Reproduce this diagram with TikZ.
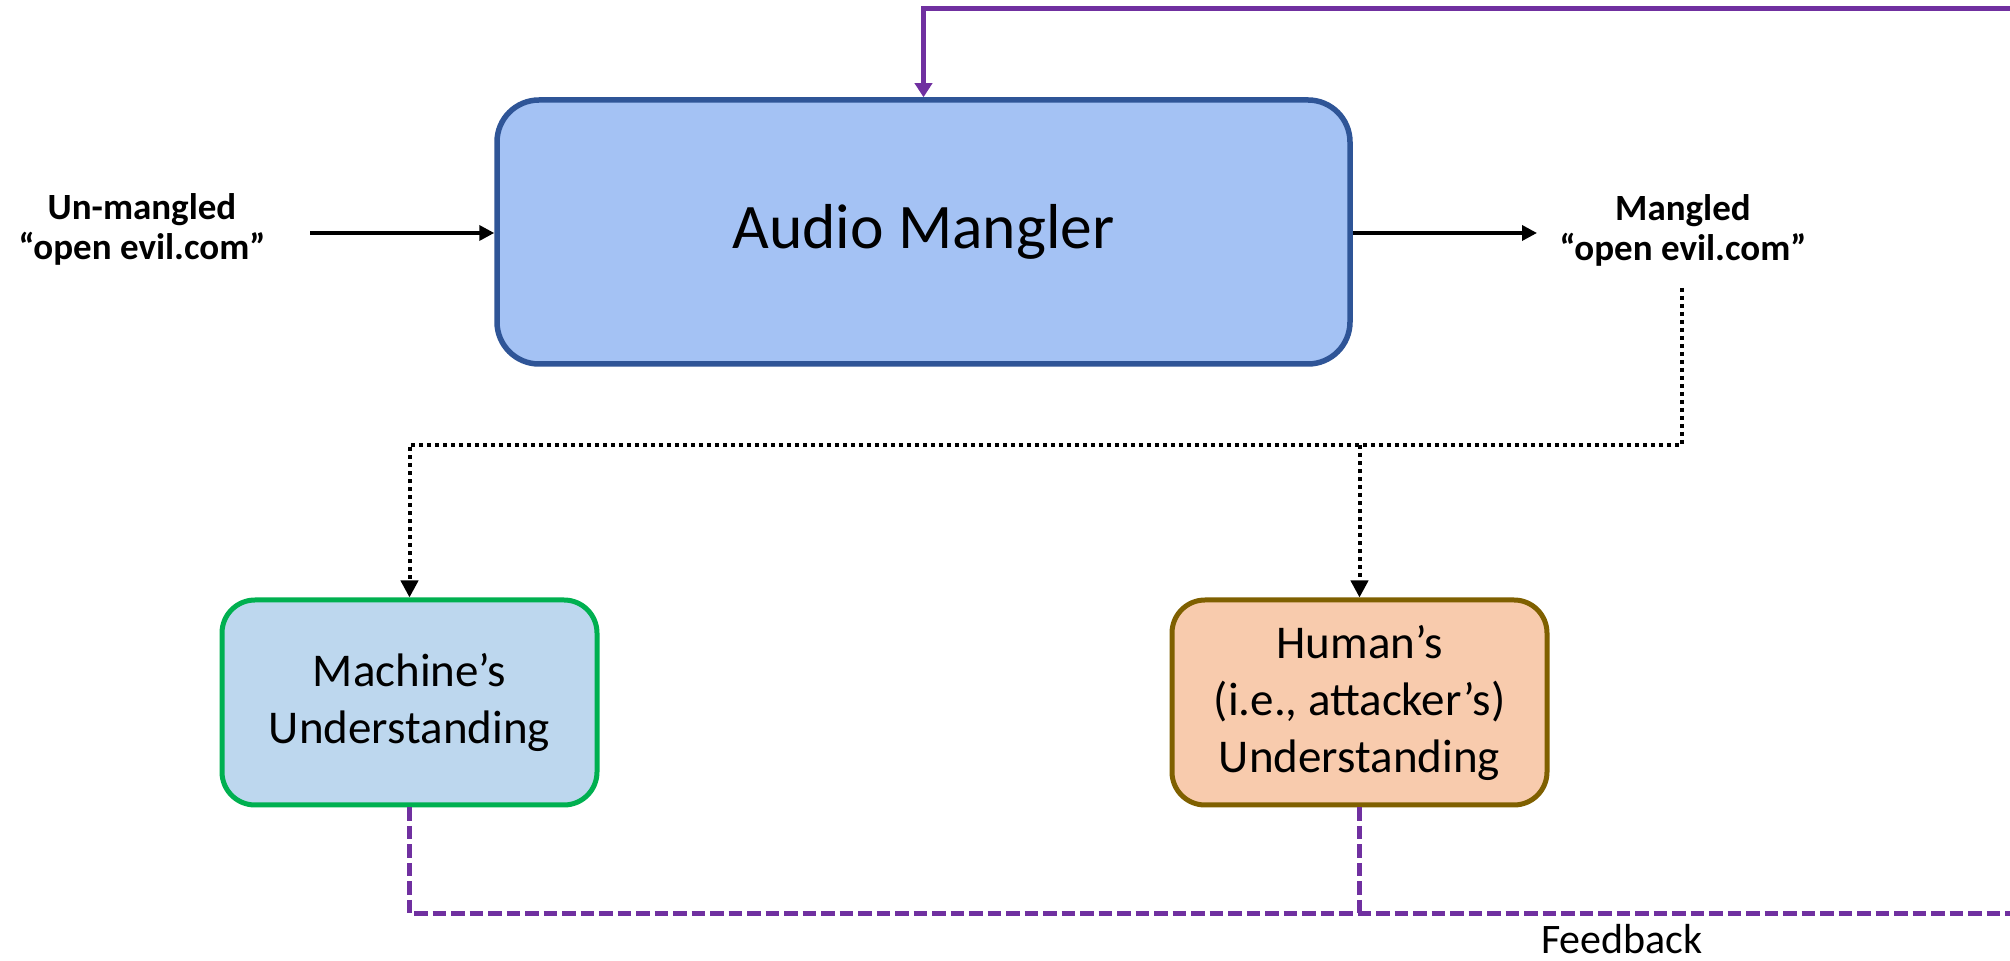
\documentclass[tikz,border=0pt]{standalone}
\usepackage{fontspec}
\setmainfont{Carlito}
\usetikzlibrary{arrows.meta}

\definecolor{mangfill}{HTML}{A4C2F4}
\definecolor{mangline}{HTML}{2F5597}
\definecolor{machfill}{HTML}{BDD7EE}
\definecolor{machline}{HTML}{00B050}
\definecolor{humfill}{HTML}{F8CBAD}
\definecolor{humline}{HTML}{7F6000}
\definecolor{fbpurple}{HTML}{7030A0}

\begin{document}
\begin{tikzpicture}[x=0.5pt,y=-0.5pt,
  bigbox/.style={draw=mangline, fill=mangfill, line width=2.75pt,
    rounded corners=21pt, minimum width=426.5pt, minimum height=132pt,
    inner sep=0pt, align=center, font=\fontsize{31.75pt}{38pt}\selectfont},
  smallbox/.style={line width=2.5pt, rounded corners=16.5pt,
    minimum width=187.5pt, minimum height=102.5pt, inner sep=0pt,
    align=center, font=\fontsize{23.5pt}{28.5pt}\selectfont},
  lbl/.style={inner sep=0pt, align=center,
    font=\bfseries\fontsize{18.5pt}{20pt}\selectfont},
  fbtext/.style={inner sep=0pt, font=\fontsize{21pt}{25pt}\selectfont},
  blackarrow/.style={line width=1.75pt, -{Triangle[length=7.5pt,width=7.5pt]}},
  dotline/.style={line width=2pt, dash pattern=on 2pt off 2pt,
    -{Triangle[length=8.5pt,width=8.5pt]}},
  fbline/.style={fbpurple, line width=2.5pt, dash pattern=on 6.75pt off 2.5pt},
  fbsolid/.style={fbpurple, line width=2.5pt,
    -{Triangle[length=7pt,width=8.5pt]}},
]
\useasboundingbox (0,0) rectangle (2010,961);

% main blocks
\node[bigbox] (audio) at (923.5,232) {Audio Mangler};
\node[smallbox, draw=machline, fill=machfill] (mach) at (409.5,702.5)
  {Machine’s\\Understanding};
\node[smallbox, draw=humline, fill=humfill] (hum) at (1359.5,702.5)
  {Human’s\\(i.e., attacker’s)\\Understanding};

% input / output labels
\node[lbl] (unm) at (142,229) {Un-mangled\\“open evil.com”};
\node[lbl] (mng) at (1683,230) {Mangled\\“open evil.com”};
\node[fbtext, anchor=base] (fb) at (1622,954) {Feedback};

% free ends of connectors
\coordinate (inA) at (310,233);
\coordinate (outB) at (1537,233);
\coordinate (dotTop) at (1682,288);
\coordinate (dotCorner) at (1682,445);
\coordinate (fbEnd) at (2010,914);
\coordinate (fbStart) at (2010,9);

% signal path through the mangler
\draw[blackarrow] (inA) -- (inA -| audio.west);
\draw[blackarrow] (audio.east |- outB) -- (outB);

% mangled audio goes to both listeners
\draw[dotline] (dotTop) -- (dotCorner) -| (mach.north);
\draw[dotline] (hum.north |- dotCorner) -- (hum.north);

% feedback loop back into the mangler
\draw[fbline] (mach.south) |- (fbEnd);
\draw[fbline] (hum.south) -- (hum.south |- fbEnd);
\draw[fbsolid] (fbStart) -| (audio.north);
\end{tikzpicture}
\end{document}
